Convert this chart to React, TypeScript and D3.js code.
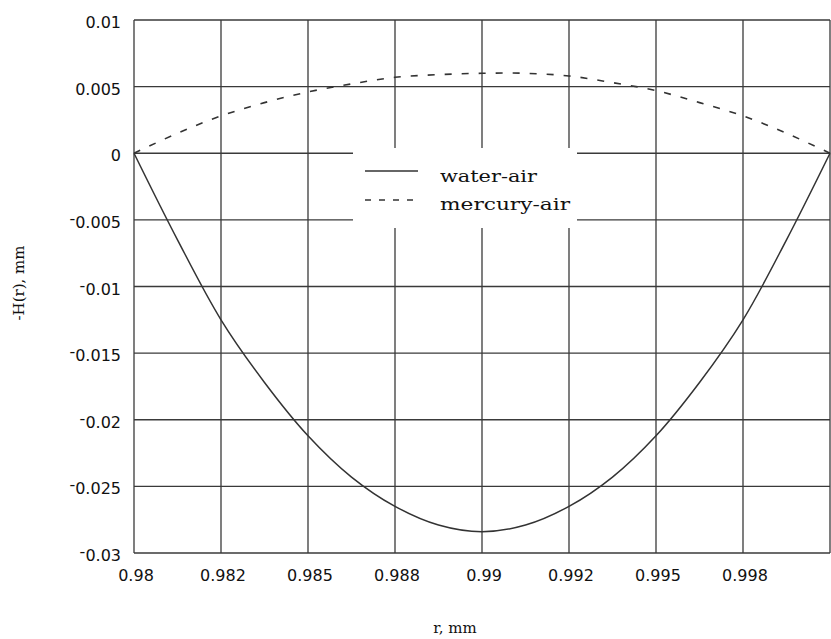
import React from "react";
import * as d3 from "d3";

const rValues = [0.98, 0.98125, 0.9825, 0.98375, 0.985, 0.98625, 0.9875, 0.98875, 0.99, 0.99125, 0.9925, 0.99375, 0.995, 0.99625, 0.9975, 0.99875, 1.0];
const waterAir = [0, -0.0065, -0.0125, -0.0172, -0.0212, -0.0243, -0.0265, -0.0279, -0.0284, -0.0279, -0.0265, -0.0243, -0.0212, -0.0172, -0.0125, -0.0065, 0];
const mercuryAir = [0, 0.0015, 0.0028, 0.0038, 0.0046, 0.0052, 0.0057, 0.0059, 0.006, 0.006, 0.0058, 0.0053, 0.0047, 0.0038, 0.0028, 0.0015, 0];

const xTicks = [0.98, 0.9825, 0.985, 0.9875, 0.99, 0.9925, 0.995, 0.9975, 1.0];
const xTickLabels = ["0.98", "0.982", "0.985", "0.988", "0.99", "0.992", "0.995", "0.998", ""];
const yTicks = [0.01, 0.005, 0, -0.005, -0.01, -0.015, -0.02, -0.025, -0.03];
const yTickLabels = ["0.01", "0.005", "0", "0.005", "0.01", "0.015", "0.02", "0.025", "0.03"];
const seriesNames = ["water-air", "mercury-air"];

const W = 831, H = 639;
const L = 134, R = 830, T = 20, B = 553;

export default function App() {
  const x = d3.scaleLinear().domain([0.98, 1.0]).range([L, R]);
  const y = d3.scaleLinear().domain([-0.03, 0.01]).range([B, T]);
  const line = d3.line<number>().x((_, i) => x(rValues[i])).y((v) => y(v)).curve(d3.curveCatmullRom.alpha(0.5));
  const grid = "#3a3a3a";
  return (
    <svg width={W} height={H} style={{ position: "absolute", left: 0, top: 0, background: "#fff" }}>
      <rect x={0} y={0} width={W} height={H} fill="#fff" />
      {xTicks.map((t, i) => (
        <line key={"gx" + i} x1={x(t)} x2={x(t)} y1={T} y2={B} stroke={grid} strokeWidth={1.3} />
      ))}
      {yTicks.map((t, i) => (
        <line key={"gy" + i} x1={L} x2={R} y1={y(t)} y2={y(t)} stroke={grid} strokeWidth={1.3} />
      ))}
      <path d={line(waterAir) || ""} fill="none" stroke="#333" strokeWidth={1.5} />
      <path d={line(mercuryAir) || ""} fill="none" stroke="#333" strokeWidth={1.6} strokeDasharray="7 10" />
      {/* legend */}
      <rect x={353} y={148} width={224} height={80} fill="#fff" />
      <line x1={365} x2={418} y1={171} y2={171} stroke="#333" strokeWidth={1.5} />
      <line x1={365} x2={418} y1={200} y2={200} stroke="#333" strokeWidth={1.5} strokeDasharray="6 8" />
      <text x={440} y={182} fontFamily="DejaVu Serif" fontSize={17} fill="#111" textLength={97} lengthAdjust="spacingAndGlyphs">{seriesNames[0]}</text>
      <text x={440} y={210} fontFamily="DejaVu Serif" fontSize={17} fill="#111" textLength={130} lengthAdjust="spacingAndGlyphs">{seriesNames[1]}</text>
      {/* tick labels */}
      {xTicks.map((t, i) => (
        <text key={"xl" + i} x={x(t) + 2} y={581} textAnchor="middle" fontFamily="DejaVu Sans" fontSize={16} fill="#111">{xTickLabels[i]}</text>
      ))}
      {yTicks.map((t, i) => (
        <text key={"yl" + i} x={121} y={y(t) + 8} textAnchor="end" fontFamily="DejaVu Sans" fontSize={16} fill="#111">
          {t < 0 ? <tspan dy={-4}>{"-"}</tspan> : null}
          {t < 0 ? <tspan dy={4}>{yTickLabels[i]}</tspan> : yTickLabels[i]}
        </text>
      ))}
      <text transform="translate(24,283) rotate(-90)" textAnchor="middle" fontFamily="DejaVu Serif" fontSize={15} fill="#111">-H(r), mm</text>
      <text x={455} y={633} textAnchor="middle" fontFamily="DejaVu Serif" fontSize={15} fill="#111">r, mm</text>
    </svg>
  );
}
